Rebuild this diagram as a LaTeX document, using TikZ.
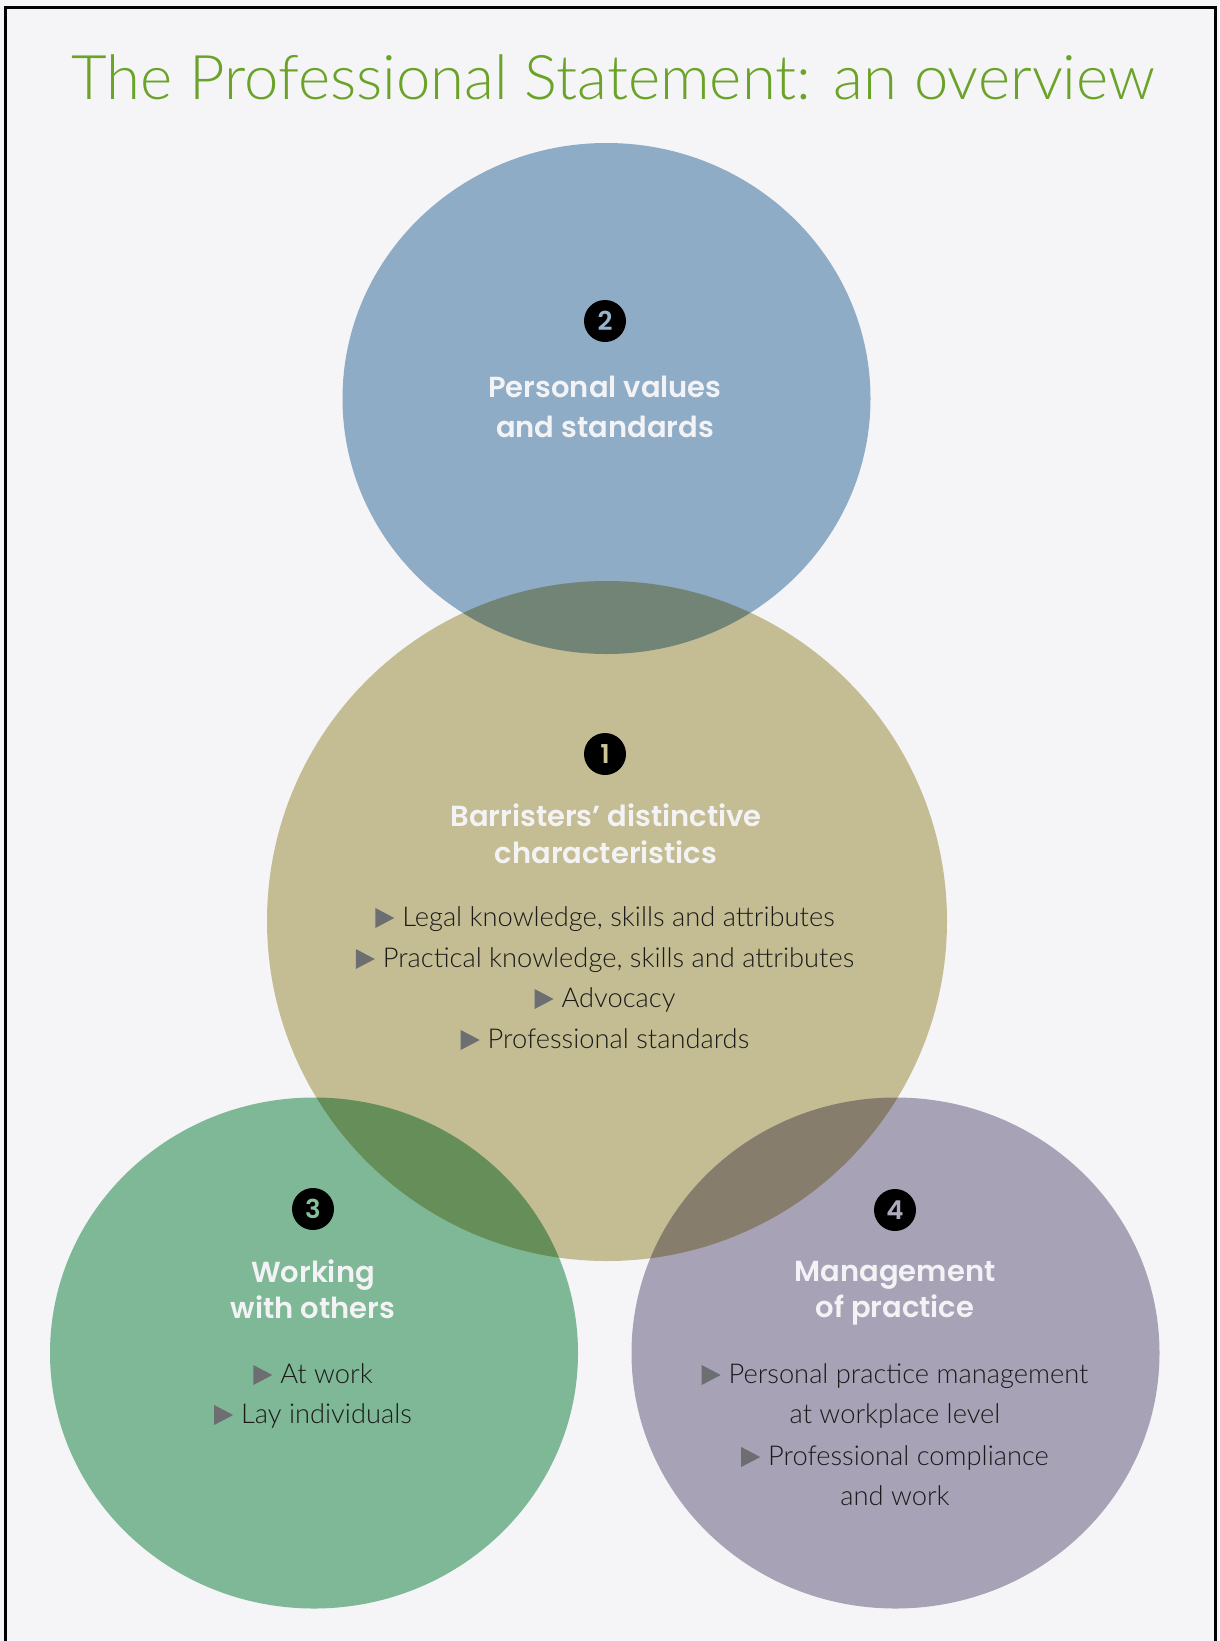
\documentclass[tikz,border=0pt]{standalone}
\usepackage{fontspec}
\setmainfont{Lato}[UprightFont=* Light, BoldFont=* Bold]
\newfontfamily\headfont{Poppins}[UprightFont=* SemiBold]
\usepackage{tikz}
\usetikzlibrary{shapes.geometric}

\definecolor{paper}{HTML}{F5F5F7}
\definecolor{titlegreen}{HTML}{6AA328}
\definecolor{blueone}{RGB}{149,180,206}
\definecolor{tanone}{RGB}{204,197,152}
\definecolor{greenone}{RGB}{133,192,155}
\definecolor{purpleone}{RGB}{175,169,188}
\definecolor{headwhite}{HTML}{F3F3F6}
\definecolor{arrowgray}{HTML}{6D6E71}
\definecolor{bodyblack}{HTML}{1A1A1A}

\newcommand{\tri}{\tikz[baseline=0pt]\fill[arrowgray] (0pt,-2pt) -- (0pt,18pt) -- (19pt,8pt) -- cycle;\hspace{8pt}}

\begin{document}
\begin{tikzpicture}
            [every node/.style={inner sep=0pt},
             disc/.style={ellipse, minimum width=528pt, minimum height=511pt},
             badge/.style={circle, minimum size=42pt, fill=black, font=\fontsize{26pt}{26pt}\selectfont\headfont},
             head/.style={anchor=base, text=headwhite, font=\fontsize{29pt}{29pt}\selectfont\headfont},
             body/.style={anchor=base, text=bodyblack, font=\fontsize{27.3pt}{27pt}\selectfont}]
                \useasboundingbox (0pt, 0pt) rectangle (1219pt, -1641pt);
                \fill [paper] (0pt, 0pt) rectangle (1219pt, -1641pt);
                \draw [line width=3pt, color=black] (5.5pt, -1641pt) -- (5.5pt, -7.3pt) -- (1215.5pt, -7.3pt) -- (1215.5pt, -1641pt);
                \node (title) [anchor=base, text=titlegreen, font=\fontsize{61.6pt}{62pt}\selectfont] at (613.5pt, -99pt) {The Professional Statement: an overview};
                \begin{scope}[blend mode=multiply]
                \node (2) [disc, fill=blueone] at (606.5pt, -398.5pt) {};
                \node (1) [circle, minimum size=680pt, fill=tanone] at (607pt, -921pt) {};
                \node (3) [disc, fill=greenone] at (314pt, -1353pt) {};
                \node (4) [disc, fill=purpleone] at (895.5pt, -1353pt) {};
                \end{scope}
                % personal values
                \node (2n) [badge, text=blueone] at (605pt, -321pt) {2};
                \node (2h1) [head] at (605pt, -397pt) {Personal values};
                \node (2h2) [head] at (605pt, -437pt) {and standards};
                % barristers
                \node (1n) [badge, text=tanone] at (605pt, -754pt) {1};
                \node (1h1) [head] at (606pt, -826pt) {Barristers’ distinctive};
                \node (1h2) [head] at (606pt, -863pt) {characteristics};
                \node (1b1) [body] at (605pt, -926pt) {\tri Legal knowledge, skills and attributes};
                \node (1b2) [body] at (605pt, -967pt) {\tri Practical knowledge, skills and attributes};
                \node (1b3) [body] at (605pt, -1007pt) {\tri Advocacy};
                \node (1b4) [body] at (605pt, -1048pt) {\tri Professional standards};
                % working with others
                \node (3n) [badge, text=greenone] at (313pt, -1209pt) {3};
                \node (3h1) [head] at (313pt, -1282pt) {Working};
                \node (3h2) [head] at (313pt, -1318pt) {with others};
                \node (3b1) [body] at (313pt, -1383pt) {\tri At work};
                \node (3b2) [body] at (313pt, -1423pt) {\tri Lay individuals};
                % management of practice
                \node (4n) [badge, text=purpleone] at (895pt, -1210pt) {4};
                \node (4h1) [head] at (895pt, -1281pt) {Management};
                \node (4h2) [head] at (895pt, -1317pt) {of practice};
                \node (4b1) [body] at (895pt, -1383pt) {\tri Personal practice management};
                \node (4b2) [body] at (895pt, -1423pt) {at workplace level};
                \node (4b3) [body] at (895pt, -1465pt) {\tri Professional compliance};
                \node (4b4) [body] at (895pt, -1505pt) {and work};
            \end{tikzpicture}
\end{document}
